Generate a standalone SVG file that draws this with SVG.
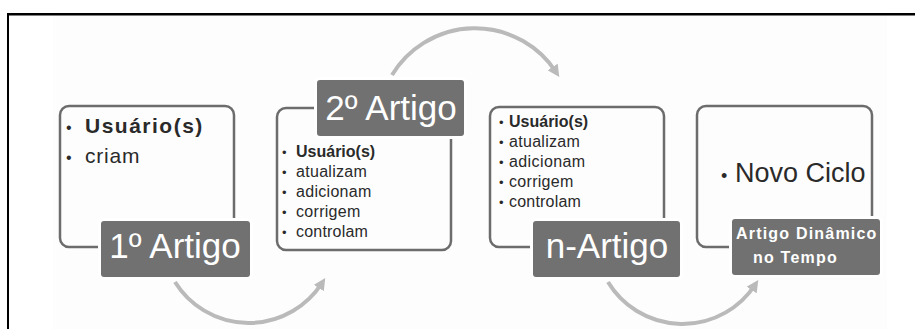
<svg xmlns="http://www.w3.org/2000/svg" width="915" height="329" viewBox="0 0 915 329">
<defs>
<style>
.frame{fill:#000}
.bg{fill:#fdfdfd}
.outline{fill:none;stroke:#6c6c6c;stroke-width:2.5}
.label{fill:#717171;stroke:#ffffff;stroke-width:6;paint-order:stroke}
.lt{font-family:"Liberation Sans",Arial,sans-serif;fill:#ffffff;font-size:35px;text-anchor:middle}
.lts{font-family:"Liberation Sans",Arial,sans-serif;fill:#ffffff;font-size:16px;font-weight:bold;letter-spacing:1.2px}
.b{font-family:"Liberation Sans",Arial,sans-serif;fill:#2a2a2a}
.bb{font-family:"Liberation Sans",Arial,sans-serif;fill:#2a2a2a;font-weight:bold}
.arc{fill:none;stroke:#bababa;stroke-width:4;marker-end:url(#ah)}
</style>
<marker id="ah" viewBox="0 0 10 10" refX="5" refY="5" markerWidth="3" markerHeight="3" orient="auto" markerUnits="strokeWidth">
<path d="M0,0 L10,5 L0,10 z" fill="#bababa"/>
</marker>
</defs>
<rect class="bg" x="53" y="15" width="834" height="314"/>
<rect class="frame" x="7" y="13" width="908" height="2.5"/>
<rect class="frame" x="7" y="13" width="2" height="316"/>

<g id="connectors">
<path class="arc" d="M175,282 A87,87 0 0 0 322,283"/>
<path class="arc" d="M392,75 A97,97 0 0 1 556,72"/>
<path class="arc" d="M608,282 A87,87 0 0 0 755,285"/>
</g>

<g id="node1">
<rect class="outline" x="60" y="106" width="174" height="141" rx="9"/>
<text class="b" x="66" y="133" font-size="16">•</text>
<text class="bb" x="85" y="133" font-size="21" letter-spacing="1.5">Usuário(s)</text>
<text class="b" x="66" y="163" font-size="16">•</text>
<text class="b" x="85" y="163" font-size="21" letter-spacing="0.8">criam</text>
<rect class="label" x="101" y="221" width="149" height="56" rx="3"/>
<text class="lt" x="175" y="258">1º Artigo</text>
</g>

<g id="node2">
<rect class="outline" x="277" y="108" width="174" height="142" rx="9"/>
<rect class="label" x="317" y="80" width="147" height="56" rx="3"/>
<text class="lt" x="391" y="120">2º Artigo</text>
<g font-size="16">
<text class="b" x="282" y="157" font-size="13">•</text>
<text class="bb" x="296" y="157">Usuário(s)</text>
<text class="b" x="282" y="177" font-size="13">•</text>
<text class="b" x="296" y="177" letter-spacing="0.3">atualizam</text>
<text class="b" x="282" y="197" font-size="13">•</text>
<text class="b" x="296" y="197" letter-spacing="0.3">adicionam</text>
<text class="b" x="282" y="217" font-size="13">•</text>
<text class="b" x="296" y="217" letter-spacing="0.3">corrigem</text>
<text class="b" x="282" y="237" font-size="13">•</text>
<text class="b" x="296" y="237" letter-spacing="0.2">controlam</text>
</g>
</g>

<g id="node3">
<rect class="outline" x="490" y="107" width="174" height="140" rx="9"/>
<g font-size="16">
<text class="b" x="499" y="127" font-size="13">•</text>
<text class="bb" x="509" y="127">Usuário(s)</text>
<text class="b" x="499" y="147" font-size="13">•</text>
<text class="b" x="509" y="147" letter-spacing="0.3">atualizam</text>
<text class="b" x="499" y="167" font-size="13">•</text>
<text class="b" x="509" y="167" letter-spacing="0.4">adicionam</text>
<text class="b" x="499" y="187" font-size="13">•</text>
<text class="b" x="509" y="187" letter-spacing="0.3">corrigem</text>
<text class="b" x="499" y="207" font-size="13">•</text>
<text class="b" x="509" y="207" letter-spacing="0.2">controlam</text>
</g>
<rect class="label" x="533" y="221" width="147" height="56" rx="3"/>
<text class="lt" x="607" y="258">n-Artigo</text>
</g>

<g id="node4">
<rect class="outline" x="697" y="106" width="175" height="141" rx="9"/>
<text class="b" x="721" y="182" font-size="18">•</text>
<text class="b" x="735" y="182" font-size="27">Novo Ciclo</text>
<rect class="label" x="732" y="219" width="148" height="56" rx="3"/>
<text class="lts" x="736" y="239">Artigo Dinâmico</text>
<text class="lts" x="753" y="263">no Tempo</text>
</g>
</svg>
